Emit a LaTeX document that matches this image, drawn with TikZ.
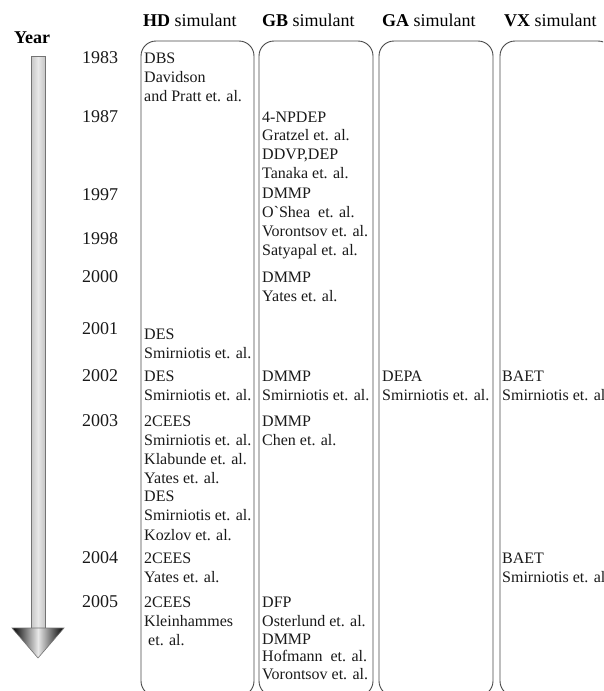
\documentclass[tikz,border=0pt]{standalone}
\usepackage{fontspec}
\newfontfamily\tnr{Liberation Serif}
\begin{document}
\begin{tikzpicture}[x=1pt,y=-1pt,
  box/.style={draw=black!72, line width=0.9pt, rounded corners=15pt},
  txt/.style={font=\tnr\fontsize{16}{19}\selectfont, anchor=base west, inner sep=0pt, text=black!90},
  yr/.style={font=\tnr\fontsize{18}{21}\selectfont, anchor=base west, inner sep=0pt, text=black!90},
  hdr/.style={font=\tnr\fontsize{18}{21}\selectfont, anchor=base west, inner sep=0pt},
  shaftstyle/.style={draw=black!55, line width=0.6pt, left color=gray!45, right color=gray!45, middle color=gray!18},
  headstyle/.style={draw=black!55, line width=0.6pt, left color=black, right color=black, middle color=gray!18}]
\useasboundingbox (0,0) rectangle (603,691);
\clip (0,0) rectangle (603,691);

% column boxes
\draw[box] (141,41) rectangle (254,696);
\draw[box] (259,41) rectangle (373,696);
\draw[box] (379,41) rectangle (493,696);
\draw[box] (500,41) rectangle (613,696);

% headers
\node[hdr] (hHD) at (143,26) {\textbf{HD} simulant};
\node[hdr] (hGB) at (262,26) {\textbf{GB} simulant};
\node[hdr] (hGA) at (382,26) {\textbf{GA} simulant};
\node[hdr] (hVX) at (504,26) {\textbf{VX} simulant};
\node[hdr] (hYear) at (14,43) {\textbf{Year}};

% time arrow
\path[shaftstyle] (31,56) rectangle (45,628);
\path[headstyle] (12,628) -- (64,628) -- (38,658) -- cycle;

% years
\foreach \t/\y [count=\i] in {1983/63, 1987/122, 1997/200, 1998/244, 2000/282, 2001/334, 2002/381, 2003/426, 2004/563, 2005/607}
  \node[yr, name=yr\i] at (82,\y) {\t};

% HD column
\foreach \t/\y [count=\i] in {DBS/63, Davidson/82, and Pratt et. al./101,
  DES/339, Smirniotis et. al./358,
  DES/381, Smirniotis et. al./400,
  2CEES/426, Smirniotis et. al./445, Klabunde et. al./464, Yates et. al./483, DES/501, Smirniotis et. al./520, Kozlov et. al./540,
  2CEES/563, Yates et. al./582,
  2CEES/607, Kleinhammes/626}
  \node[txt, name=hd\i] at (144,\y) {\t};
\node[txt] (hdlast) at (148,645) {et. al.};

% GB column
\foreach \t/\y [count=\i] in {4-NPDEP/122, Gratzel et. al./140, {DDVP,DEP}/159, Tanaka et. al./178,
  DMMP/198, {O`Shea~ et. al.}/217, Vorontsov et. al./236, Satyapal et. al./255,
  DMMP/282, Yates et. al./301,
  DMMP/381, Smirniotis et. al./400,
  DMMP/426, Chen et. al./445,
  DFP/607, Osterlund et. al./626, DMMP/644, {Hofmann~ et. al.}/661, Vorontsov et. al./679}
  \node[txt, name=gb\i] at (262,\y) {\t};

% GA column
\node[txt] (ga1) at (382,381) {DEPA};
\node[txt] (ga2) at (382,400) {Smirniotis et. al.};

% VX column
\node[txt] (vx1) at (502,381) {BAET};
\node[txt] (vx2) at (502,400) {Smirniotis et. al};
\node[txt] (vx3) at (502,563) {BAET};
\node[txt] (vx4) at (502,582) {Smirniotis et. al};
\end{tikzpicture}
\end{document}
